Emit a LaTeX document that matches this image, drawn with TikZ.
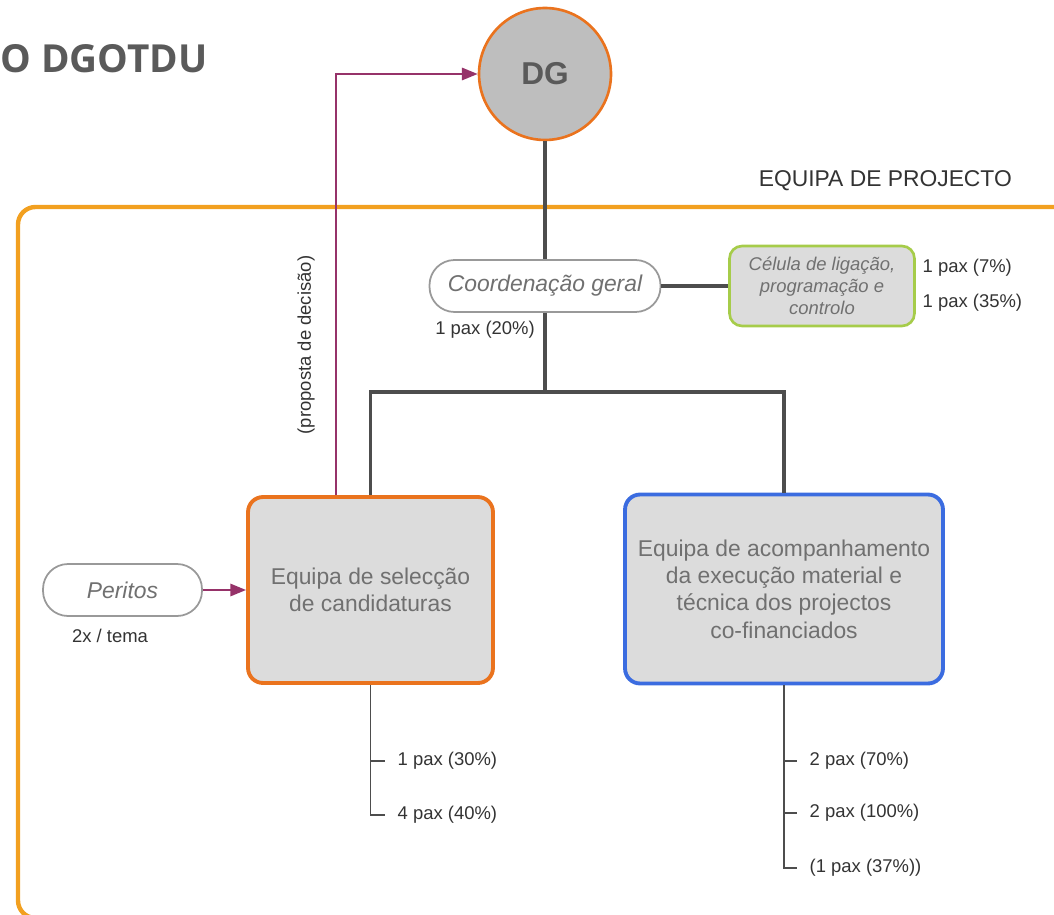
\documentclass[tikz,border=0pt]{standalone}
\usepackage{fontspec}
\setmainfont{Liberation Sans}
\newfontfamily\titlefont{Open Sans}
\usepackage{tikz}
\usetikzlibrary{arrows.meta,positioning,calc}
\definecolor{frameorange}{RGB}{242,160,32}
\definecolor{boxorange}{RGB}{234,115,30}
\definecolor{boxblue}{RGB}{59,108,224}
\definecolor{cellgreen}{RGB}{166,204,74}
\definecolor{decpurple}{RGB}{150,50,105}
\definecolor{linegray}{RGB}{77,77,77}
\definecolor{boxgray}{RGB}{220,220,220}
\definecolor{dggray}{RGB}{190,190,190}
\definecolor{textgray}{RGB}{112,112,112}
\definecolor{labelgray}{RGB}{51,51,51}
\definecolor{titlegray}{RGB}{90,90,90}

\begin{document}
\begin{tikzpicture}[x=0.02cm,y=-0.02cm,
  team/.style={draw, line width=2.2pt, fill=boxgray, rounded corners=0.3cm,
    text=textgray, align=center, font=\fontsize{13}{15.5}\selectfont},
  pill/.style={draw=gray!80, line width=1pt, fill=white, rounded corners=0.5cm,
    minimum height=1.04cm, text=textgray, font=\itshape\fontsize{13}{15.5}\selectfont},
  link/.style={draw=linegray, line width=2pt},
  branch/.style={draw=linegray, line width=1.1pt},
  decision/.style={draw=decpurple, line width=1.3pt, -{Triangle[length=9pt,width=7pt]}},
  pax/.style={text=labelgray, font=\fontsize{10.5}{12.5}\selectfont, inner xsep=7pt}]
  \useasboundingbox (0,0) rectangle (1054,915);
  \draw[frameorange, line width=2.5pt, rounded corners=0.35cm] (18,207) rectangle (1080,918);
  \node[anchor=base west, inner sep=0pt, text=titlegray,
    font=\titlefont\bfseries\fontsize{22}{26}\selectfont] (title) at (0,73) {O DGOTDU};
  \node[anchor=base east, text=labelgray, font=\fontsize{13}{15}\selectfont] (equipa) at (1018,187) {EQUIPA DE PROJECTO};

  \node[circle, draw=boxorange, line width=1.5pt, fill=dggray, minimum size=2.64cm,
    text=titlegray, font=\bfseries\fontsize{18}{20}\selectfont] (dg) at (545,74) {DG};
  \node[pill, minimum width=4.62cm] (coord) at (545,286) {Coordenação geral};
  \node[pax] (coordpax) at (485,330) {1 pax (20\%)};
  \node[draw=cellgreen, line width=1.5pt, fill=boxgray, rounded corners=0.25cm,
    minimum width=3.7cm, minimum height=1.6cm, align=center, text=textgray,
    font=\itshape\fontsize{10.5}{12.5}\selectfont] (cell) at (822,286) {Célula de ligação,\\programação e\\controlo};
  \node[pax, anchor=west] (cell1) at (910,268) {1 pax (7\%)};
  \node[pax, anchor=west] (cell2) at (910,303) {1 pax (35\%)};

  \node[team, draw=boxorange, minimum width=4.9cm, minimum height=3.72cm] (sel) at (370.5,590)
    {Equipa de selecção\\de candidaturas};
  \node[team, draw=boxblue, minimum width=6.36cm, minimum height=3.78cm] (acomp) at (784,589)
    {Equipa de acompanhamento\\da execução material e\\técnica dos projectos\\co-financiados};
  \node[pill, minimum width=3.18cm] (peritos) at (122.5,590) {Peritos};
  \node[pax] (peritospax) at (110,636) {2x / tema};
  \node[rotate=90, text=labelgray, font=\fontsize{10.5}{12}\selectfont] (decisao) at (306,345) {(proposta de decisão)};

  \coordinate (split) at (545,392);
  \draw[link] (dg) -- (coord);
  \draw[link] (coord) -- (split);
  \draw[link] (coord) -- (cell);
  \draw[link] (sel.north) |- (split) -| (acomp.north);
  \draw[decision] ([xshift=-0.69cm]sel.north) |- (dg);
  \draw[decision] (peritos) -- (sel);

  \node[pax, anchor=west] (sel1) at (385,761) {1 pax (30\%)};
  \node[pax, anchor=west] (sel2) at (385,815) {4 pax (40\%)};
  \draw[branch] (sel.south) |- (sel2.west);
  \draw[branch] (sel.south |- sel1.west) -- (sel1.west);

  \node[pax, anchor=west] (acomp1) at (797,761) {2 pax (70\%)};
  \node[pax, anchor=west] (acomp2) at (797,813) {2 pax (100\%)};
  \node[pax, anchor=west] (acomp3) at (797,868) {(1 pax (37\%))};
  \draw[branch] (acomp.south) |- (acomp3.west);
  \foreach \n in {acomp1,acomp2}
    \draw[branch] (acomp.south |- \n.west) -- (\n.west);
\end{tikzpicture}
\end{document}
